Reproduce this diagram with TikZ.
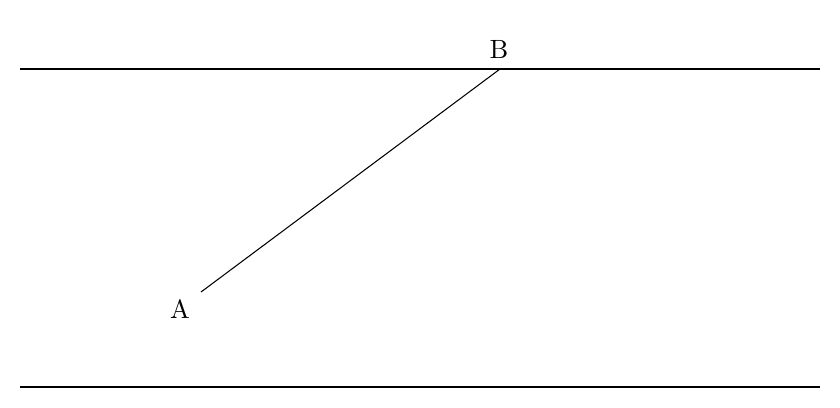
\documentclass[tikz,border=0pt]{standalone}
\begin{document}
\begin{tikzpicture}[x=0.3788pt,y=-0.3788pt,line width=0.4pt,
  lbl/.style={inner sep=0pt,anchor=center}]
\useasboundingbox (0,0) rectangle (840,407);
\coordinate (L1) at (20,69);
\coordinate (R1) at (820,69);
\coordinate (L2) at (20,387);
\coordinate (R2) at (820,387);
\coordinate (A) at (201,292);
\coordinate (B) at (500,69);
\node[lbl] (la) at (180,309) {A};
\node[lbl] (lb) at (499,49) {B};
\draw (L1) -- (R1);
\draw (L2) -- (R2);
\draw (A) -- (B);
\end{tikzpicture}
\end{document}
